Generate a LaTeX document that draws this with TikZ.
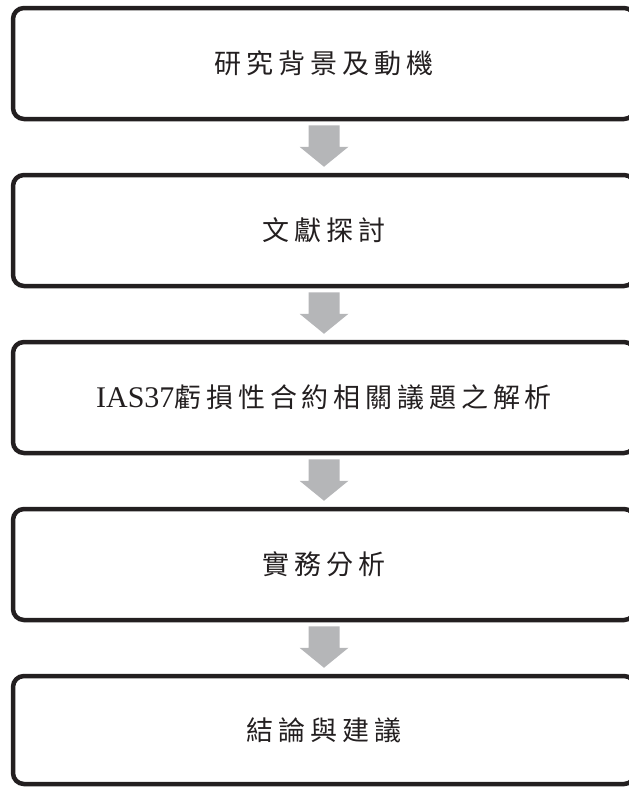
\documentclass[tikz,border=0pt]{standalone}
\usepackage{fontspec}
\setmainfont{Noto Sans CJK TC}[LetterSpace=18]
\newfontfamily\latinfont{Liberation Serif}
\usetikzlibrary{calc}
\definecolor{boxline}{HTML}{231F20}
\definecolor{arrowgray}{HTML}{B5B6B8}
\tikzset{
  flowbox/.style={draw=boxline, line width=4.5pt, rounded corners=11pt,
    minimum width=622pt, minimum height=111pt, inner sep=0pt,
    font=\fontsize{27}{30}\selectfont, text=boxline},
  flowarrow/.style={fill=arrowgray, draw=none}
}
\newcommand\downflow[2]{%
  \fill[flowarrow] ($(#1.south)+(-15.5,4)$) -- ($(#1.south)+(15.5,4)$)
    -- ($(#2.north)+(15.5,-26)$) -- ($(#2.north)+(24.5,-26)$)
    -- ($(#2.north)+(0,-6)$) -- ($(#2.north)+(-24.5,-26)$)
    -- ($(#2.north)+(-15.5,-26)$) -- cycle;}
\begin{document}
\begin{tikzpicture}[x=1pt,y=-1pt]
\useasboundingbox (0,0) rectangle (629,787);
\clip (0,0) rectangle (629,787);
\node[flowbox] (b1) at (324,63.5) {研究背景及動機};
\node[flowbox] (b2) at (324,230.5) {文獻探討};
\node[flowbox] (b3) at (324,397.5) {{\latinfont\fontsize{30}{30}\selectfont IAS37}虧損性合約相關議題之解析};
\node[flowbox] (b4) at (324,564.5) {實務分析};
\node[flowbox, minimum height=108pt] (b5) at (324,730) {結論與建議};
\downflow{b1}{b2}
\downflow{b2}{b3}
\downflow{b3}{b4}
\downflow{b4}{b5}
\end{tikzpicture}
\end{document}
